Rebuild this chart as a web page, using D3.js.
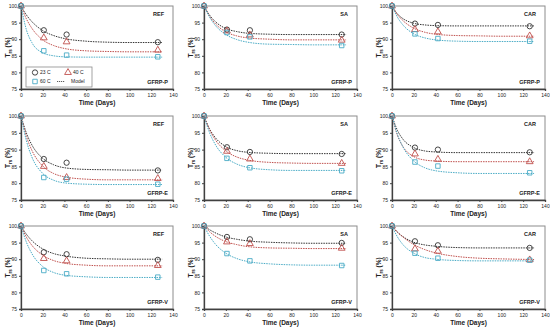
<!DOCTYPE html>
<html>
<head>
<meta charset="utf-8">
<script src="https://cdn.jsdelivr.net/npm/d3@7"></script>
<style>
  body { margin: 0; background: #fff; }
  svg { font-family: "Liberation Sans", Arial, sans-serif; }
</style>
</head>
<body>
<svg id="chart" width="550" height="331"></svg>
<script>
// days of measurement and days used to trace the model curves
const days = [0, 21, 42, 126]
const modelDays = [0, 5, 10, 20, 30, 40, 60, 80, 100, 130]
const temps = ['23 C', '40 C', '60 C']
const treatments = ['REF', 'SA', 'CAR']
const bars = ['GFRP-P', 'GFRP-E', 'GFRP-V']
const xTicks = [0, 20, 40, 60, 80, 100, 120, 140]
const yTicks = [75, 80, 85, 90, 95, 100]

// measured retention (%) : [23C, 40C, 60C]
const refP = [[100, 92.7, 91.4, 89.1], [100, 90.4, 89.2, 86.7], [100, 86.5, 85.2, 84.7]]
const saP  = [[100, 92.9, 92.7, 91.4], [100, 92.5, 91.3, 89.7], [100, 92.0, 90.7, 88.1]]
const carP = [[100, 94.7, 94.3, 93.9], [100, 92.9, 92.2, 91.0], [100, 91.6, 90.2, 89.4]]
const refE = [[100, 87.2, 86.1, 83.8], [100, 85.0, 81.7, 81.4], [100, 81.7, 81.2, 79.7]]
const saE  = [[100, 90.7, 89.3, 88.7], [100, 89.5, 87.2, 85.9], [100, 87.4, 84.6, 83.7]]
const carE = [[100, 90.6, 90.0, 89.2], [100, 88.7, 87.1, 86.4], [100, 86.3, 85.1, 83.1]]
const refV = [[100, 92.1, 91.5, 89.8], [100, 90.2, 89.5, 88.1], [100, 86.6, 85.6, 84.6]]
const saV  = [[100, 96.7, 96.0, 94.9], [100, 95.2, 94.7, 93.3], [100, 91.7, 89.5, 88.1]]
const carV = [[100, 95.4, 94.2, 93.4], [100, 93.1, 92.4, 89.8], [100, 91.8, 90.3, 89.7]]

// model curves read along modelDays
const refPm = [[100, 97.3, 95.3, 92.6, 91.1, 90.2, 89.4, 89.1, 89.0, 89.0],
               [100, 96.1, 93.3, 89.8, 88.1, 87.2, 86.5, 86.3, 86.2, 86.2],
               [100, 92.8, 89.0, 85.9, 85.0, 84.7, 84.6, 84.6, 84.6, 84.6]]
const saPm  = [[100, 97.3, 95.4, 93.2, 92.3, 91.8, 91.5, 91.4, 91.4, 91.4],
               [100, 96.9, 94.8, 92.2, 91.0, 90.4, 90.0, 89.8, 89.8, 89.8],
               [100, 96.7, 94.3, 91.4, 89.9, 89.1, 88.5, 88.4, 88.3, 88.3]]
const carPm = [[100, 97.6, 96.2, 94.8, 94.3, 94.1, 94.0, 94.0, 94.0, 94.0],
               [100, 97.4, 95.6, 93.3, 92.1, 91.5, 91.1, 91.0, 90.9, 90.9],
               [100, 96.6, 94.3, 91.6, 90.4, 89.8, 89.4, 89.3, 89.3, 89.3]]
const refEm = [[100, 94.9, 91.4, 87.4, 85.5, 84.6, 84.1, 84.0, 83.9, 83.9],
               [100, 93.9, 89.8, 85.1, 82.9, 81.9, 81.2, 81.0, 81.0, 81.0],
               [100, 92.6, 87.8, 82.9, 80.9, 80.1, 79.7, 79.6, 79.6, 79.6]]
const saEm  = [[100, 96.2, 93.7, 90.9, 89.7, 89.2, 88.9, 88.8, 88.8, 88.8],
               [100, 96.0, 93.1, 89.6, 87.8, 86.9, 86.2, 86.0, 85.9, 85.9],
               [100, 95.1, 91.7, 87.7, 85.7, 84.7, 84.0, 83.8, 83.8, 83.8]]
const carEm = [[100, 95.7, 93.1, 90.6, 89.6, 89.3, 89.1, 89.1, 89.1, 89.1],
               [100, 94.2, 90.9, 87.9, 86.9, 86.6, 86.4, 86.4, 86.4, 86.4],
               [100, 94.5, 90.8, 86.6, 84.6, 83.7, 83.1, 82.9, 82.9, 82.9]]
const refVm = [[100, 97.5, 95.6, 93.1, 91.7, 91.0, 90.3, 90.1, 90.0, 90.0],
               [100, 96.6, 94.2, 91.2, 89.6, 88.8, 88.2, 88.0, 88.0, 88.0],
               [100, 95.1, 91.7, 87.8, 86.0, 85.2, 84.7, 84.5, 84.5, 84.5]]
const saVm  = [[100, 98.9, 98.0, 96.7, 96.0, 95.5, 95.1, 94.9, 94.8, 94.8],
               [100, 98.3, 97.0, 95.3, 94.4, 93.8, 93.4, 93.3, 93.2, 93.2],
               [100, 97.0, 94.7, 91.8, 90.2, 89.3, 88.6, 88.3, 88.2, 88.2]]
const carVm = [[100, 98.1, 96.8, 95.1, 94.3, 93.9, 93.5, 93.4, 93.4, 93.4],
               [100, 98.2, 96.7, 94.4, 92.9, 91.9, 90.8, 90.3, 90.1, 89.9],
               [100, 96.7, 94.4, 91.8, 90.5, 90.0, 89.6, 89.5, 89.5, 89.5]]

const measured = [[refP, saP, carP], [refE, saE, carE], [refV, saV, carV]]
const models = [[refPm, saPm, carPm], [refEm, saEm, carEm], [refVm, saVm, carVm]]

/* layout of the 3x3 panels */
const cols = [[21, 173], [204, 357], [392, 545]]
const rows = [[6, 89], [116, 200], [226, 309]]
const colors = ['#333333', '#c0504d', '#4bacc6']
const shapes = [d3.symbolCircle, d3.symbolTriangle, d3.symbolSquare]
const sizes = [22, 20, 20]

const svg = d3.select('#chart')

rows.forEach((r, i) => {
  cols.forEach((c, j) => {
    const x = d3.scaleLinear().domain([0, 140]).range(c)
    const y = d3.scaleLinear().domain([75, 100]).range([r[1], r[0]])
    const g = svg.append('g')

    // frame
    g.append('rect')
      .attr('x', c[0]).attr('y', r[0])
      .attr('width', c[1] - c[0]).attr('height', r[1] - r[0])
      .attr('fill', 'none').attr('stroke', '#8c8c8c').attr('stroke-width', 1)

    // axes
    const ax = g.append('g').attr('transform', `translate(0,${r[1]})`)
      .call(d3.axisBottom(x).tickValues(xTicks).tickSize(2).tickPadding(2))
    const ay = g.append('g').attr('transform', `translate(${c[0]},0)`)
      .call(d3.axisLeft(y).tickValues(yTicks).tickSize(2).tickPadding(2))
    ;[ax, ay].forEach(a => {
      a.select('.domain').attr('stroke', '#404040').attr('stroke-width', 1.3)
      a.selectAll('.tick line').attr('stroke', '#404040')
      a.selectAll('text').attr('font-size', 5).attr('fill', '#222')
    })

    // axis titles
    g.append('text')
      .attr('x', (c[0] + c[1]) / 2).attr('y', r[1] + 16)
      .attr('text-anchor', 'middle').attr('font-size', 6.5).attr('font-weight', 'bold')
      .attr('fill', '#222').text('Time (Days)')
    const yt = g.append('text')
      .attr('transform', `translate(${c[0] - 11},${(r[0] + r[1]) / 2}) rotate(-90)`)
      .attr('text-anchor', 'middle').attr('font-size', 6.5).attr('font-weight', 'bold')
      .attr('fill', '#222')
    yt.append('tspan').text('T')
    yt.append('tspan').attr('font-size', 4.5).attr('dy', 1.5).text('rs')
    yt.append('tspan').attr('dy', -1.5).text(' (%)')

    // panel labels
    g.append('text')
      .attr('x', c[1] - 9).attr('y', r[0] + 10)
      .attr('text-anchor', 'end').attr('font-size', 5.5).attr('font-weight', 'bold')
      .attr('fill', '#222').text(treatments[j])
    g.append('text')
      .attr('x', c[1] - 5).attr('y', r[1] - 5)
      .attr('text-anchor', 'end').attr('font-size', 5.5).attr('font-weight', 'bold')
      .attr('fill', '#222').text(bars[i])

    // model curves
    const line = d3.line()
      .x((d, k) => x(modelDays[k]))
      .y(d => y(d))
      .curve(d3.curveMonotoneX)
    models[i][j].forEach((s, k) => {
      g.append('path')
        .attr('d', line(s))
        .attr('fill', 'none').attr('stroke', colors[k])
        .attr('stroke-width', 1).attr('stroke-dasharray', '1.5,1')
    })

    // measured points
    measured[i][j].forEach((s, k) => {
      g.selectAll(null)
        .data(s)
        .join('path')
        .attr('transform', (d, n) => `translate(${x(days[n])},${y(d)})`)
        .attr('d', d3.symbol(shapes[k], sizes[k]))
        .attr('fill', 'none').attr('stroke', colors[k]).attr('stroke-width', 0.9)
    })
  })
})

/* legend (first panel only) */
const lg = svg.append('g').attr('transform', 'translate(26,67)')
lg.append('rect').attr('width', 66).attr('height', 20)
  .attr('fill', '#fff').attr('stroke', '#8c8c8c').attr('stroke-width', 0.8)
const legendPos = [[9, 5.5], [42, 5.5], [9, 14.5]]
temps.forEach((t, k) => {
  lg.append('path')
    .attr('transform', `translate(${legendPos[k][0]},${legendPos[k][1]})`)
    .attr('d', d3.symbol(shapes[k], sizes[k]))
    .attr('fill', 'none').attr('stroke', colors[k]).attr('stroke-width', 0.9)
  lg.append('text')
    .attr('x', legendPos[k][0] + 5).attr('y', legendPos[k][1] + 1.8)
    .attr('font-size', 5).attr('fill', '#222').text(t)
})
lg.append('line').attr('x1', 31).attr('x2', 39).attr('y1', 14.5).attr('y2', 14.5)
  .attr('stroke', '#333').attr('stroke-width', 0.8).attr('stroke-dasharray', '1.2,0.8')
lg.append('text').attr('x', 45).attr('y', 16.3)
  .attr('font-size', 5).attr('fill', '#222').text('Model')
</script>
</body>
</html>
